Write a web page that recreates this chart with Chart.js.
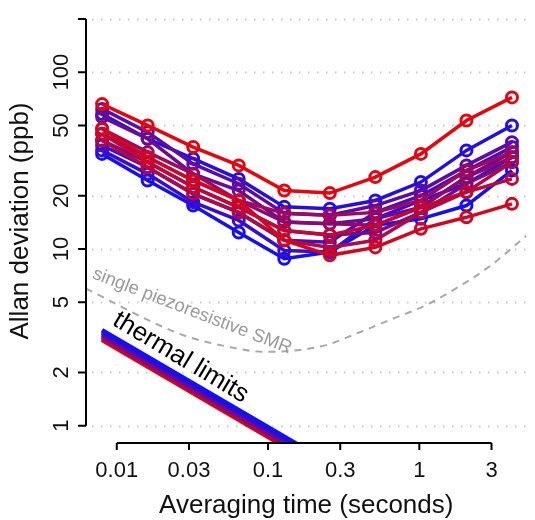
<!DOCTYPE html>
<html>
<head>
<meta charset="utf-8">
<script src="https://cdn.jsdelivr.net/npm/chart.js@4.4.0/dist/chart.umd.min.js"></script>
<style>
  html, body { margin: 0; padding: 0; background: #fff; }
  canvas { display: block; }
</style>
</head>
<body>
<canvas id="allanChart" width="535" height="520"></canvas>
<script>
// averaging times (s)
const tau = [0.008, 0.016, 0.032, 0.064, 0.128, 0.256, 0.512, 1.024, 2.048, 4.096];

// Allan deviation (ppb), one array per device, blue -> red
const dev01 = [34.5, 24.4, 17.6, 12.4, 8.8, 9.6, 13.6, 14.8, 17.6, 27.8];
const dev02 = [58, 42, 32.4, 24.9, 17.3, 16.9, 18.8, 23.9, 36.1, 49.9];
const dev03 = [36.1, 26.6, 18.4, 14.5, 9.8, 9.6, 14.8, 18.8, 23.4, 33];
const dev04 = [38.5, 29, 20.5, 16.1, 11.2, 10.9, 16.1, 20, 27.8, 37.7];
const dev05 = [62, 45.8, 30.3, 23.4, 15.9, 15.5, 17.6, 21.4, 29.7, 40.2];
const dev06 = [55.7, 42, 26.6, 21.4, 14.2, 13.9, 14.8, 17.2, 25.5, 35.3];
const dev07 = [41.1, 31, 22.4, 17.2, 12.7, 12, 12.4, 16.1, 23.4, 31];
const dev08 = [44.9, 33, 24.4, 18.8, 14.2, 13.9, 13.6, 17.2, 25.5, 33];
const dev09 = [47.9, 35.3, 26.6, 18.8, 15.9, 15.5, 16.1, 18.8, 27.8, 35.3];
const dev10 = [41.1, 29, 20.5, 16.1, 11.2, 10.2, 11.2, 16.1, 21, 31];
const dev11 = [44.9, 31, 22.4, 17.2, 12.7, 12, 13.6, 17.2, 21, 24.9];
const dev12 = [47.9, 33, 24.4, 18.8, 11.2, 9.2, 10.2, 13, 15.1, 18];
const dev13 = [66, 50, 37.7, 29.7, 21.4, 20.7, 25.5, 34.5, 53.3, 72];
const devices = [dev01, dev02, dev03, dev04, dev05, dev06, dev07, dev08, dev09, dev10, dev11, dev12, dev13];

// thermal limit lines (slope -1/2), value at first and last tau
const thermalTau = [0.008, 0.5];
const thermalStart = [3.48, 3.44, 3.40, 3.36, 3.32, 3.28, 3.25, 3.21, 3.17, 3.14, 3.10, 3.07, 3.04];
const thermalEnd = [0.440, 0.435, 0.430, 0.425, 0.420, 0.415, 0.411, 0.406, 0.401, 0.397, 0.392, 0.388, 0.385];

// single piezoresistive SMR curve
const smrTau = [0.00626, 0.00897, 0.0155, 0.0282, 0.0565, 0.093, 0.149, 0.246, 0.404, 0.665, 1.09, 1.8, 2.96, 5.11];
const smrDev = [5.97, 5.1, 4.02, 3.23, 2.78, 2.62, 2.66, 2.87, 3.38, 4.02, 4.78, 6.07, 8.05, 11.9];

const yTicks = [1, 2, 5, 10, 20, 50, 100, 200];
const yTickLabels = ["1", "2", "5", "10", "20", "50", "100", ""];
const xTicks = [0.01, 0.03, 0.1, 0.3, 1, 3];
const xTickLabels = ["0.01", "0.03", "0.1", "0.3", "1", "3"];

const FONT = "'Liberation Sans', Arial, Helvetica, sans-serif";

function rampColor(i, n) {
  const t = n > 1 ? i / (n - 1) : 0;
  const from = [20, 15, 245], to = [228, 5, 15];
  const c = from.map((v, k) => Math.round(v + (to[k] - v) * t));
  return `rgb(${c[0]},${c[1]},${c[2]})`;
}

const datasets = [];

devices.forEach((vals, i) => {
  const col = rampColor(i, devices.length);
  datasets.push({
    data: tau.map((x, k) => ({ x, y: vals[k] })),
    borderColor: col,
    borderWidth: 3.5,
    pointRadius: 5.5,
    pointBorderWidth: 3,
    pointBorderColor: col,
    pointBackgroundColor: "rgba(0,0,0,0)",
    order: 100 - i
  });
});

thermalStart.forEach((v, i) => {
  const col = rampColor(i, thermalStart.length);
  datasets.push({
    data: [{ x: thermalTau[0], y: v }, { x: thermalTau[1], y: thermalEnd[i] }],
    borderColor: col,
    borderWidth: 4,
    pointRadius: 0,
    clip: 0,
    order: 200 + i
  });
});

datasets.push({
  data: smrTau.map((x, k) => ({ x, y: smrDev[k] })),
  borderColor: "#a8a8a8",
  borderWidth: 2,
  borderDash: [7, 6],
  pointRadius: 0,
  tension: 0.4,
  cubicInterpolationMode: "monotone",
  clip: 0,
  order: 300
});

const rAxes = {
  id: "rAxes",
  beforeDatasetsDraw(chart) {
    const { ctx, chartArea, scales } = chart;
    ctx.save();
    ctx.strokeStyle = "#c9c9c9";
    ctx.lineWidth = 2;
    ctx.setLineDash([1.5, 7.5]);
    yTicks.forEach(v => {
      const y = Math.round(scales.y.getPixelForValue(v)) + 0.5;
      ctx.beginPath();
      ctx.moveTo(chartArea.left + 6, y);
      ctx.lineTo(chartArea.right, y);
      ctx.stroke();
    });
    ctx.restore();
  },
  afterDatasetsDraw(chart) {
    const { ctx, chartArea, scales } = chart;
    const xs = scales.x, ys = scales.y;
    ctx.save();
    ctx.strokeStyle = "#000";
    ctx.lineWidth = 2;
    ctx.setLineDash([]);

    // y axis
    const ax = chartArea.left;
    ctx.beginPath();
    ctx.moveTo(ax, ys.getPixelForValue(yTicks[0]));
    ctx.lineTo(ax, ys.getPixelForValue(yTicks[yTicks.length - 1]));
    yTicks.forEach(v => {
      const y = ys.getPixelForValue(v);
      ctx.moveTo(ax, y);
      ctx.lineTo(ax - 8, y);
    });
    ctx.stroke();

    // x axis
    const ay = chartArea.bottom;
    ctx.beginPath();
    ctx.moveTo(xs.getPixelForValue(xTicks[0]), ay);
    ctx.lineTo(xs.getPixelForValue(xTicks[xTicks.length - 1]), ay);
    xTicks.forEach(v => {
      const x = xs.getPixelForValue(v);
      ctx.moveTo(x, ay);
      ctx.lineTo(x, ay + 7);
    });
    ctx.stroke();

    ctx.fillStyle = "#111";
    ctx.font = `22px ${FONT}`;
    ctx.textAlign = "center";
    ctx.textBaseline = "middle";
    xTicks.forEach((v, i) => {
      ctx.fillText(xTickLabels[i], xs.getPixelForValue(v), ay + 28);
    });
    yTicks.forEach((v, i) => {
      if (!yTickLabels[i]) return;
      ctx.save();
      ctx.translate(ax - 24, ys.getPixelForValue(v));
      ctx.rotate(-Math.PI / 2);
      ctx.fillText(yTickLabels[i], 0, 0);
      ctx.restore();
    });

    // axis titles
    ctx.font = `26px ${FONT}`;
    ctx.fillText("Averaging time (seconds)", (chartArea.left + chartArea.right) / 2, 506);
    ctx.save();
    ctx.translate(21, 221);
    ctx.rotate(-Math.PI / 2);
    ctx.fillText("Allan deviation (ppb)", 0, 0);
    ctx.restore();

    // annotations
    ctx.textAlign = "left";
    ctx.textBaseline = "alphabetic";
    ctx.save();
    ctx.fillStyle = "#9a9a9a";
    ctx.font = `18.5px ${FONT}`;
    ctx.translate(xs.getPixelForValue(0.0068), ys.getPixelForValue(6.85));
    ctx.rotate(21 * Math.PI / 180);
    ctx.fillText("single piezoresistive SMR", 0, 0);
    ctx.restore();

    ctx.save();
    ctx.fillStyle = "#000";
    ctx.font = `26px ${FONT}`;
    ctx.translate(xs.getPixelForValue(0.0092), ys.getPixelForValue(3.75));
    ctx.rotate(31 * Math.PI / 180);
    ctx.fillText("thermal limits", 0, 0);
    ctx.restore();

    ctx.restore();
  }
};

new Chart(document.getElementById("allanChart").getContext("2d"), {
  type: "line",
  data: { datasets },
  options: {
    responsive: false,
    animation: false,
    layout: { padding: { left: 86, top: 19, right: 0, bottom: 77 } },
    scales: {
      x: { type: "logarithmic", min: 0.00626, max: 5.11, display: false },
      y: { type: "logarithmic", min: 0.798, max: 200, display: false }
    },
    plugins: {
      legend: { display: false },
      tooltip: { enabled: false }
    }
  },
  plugins: [rAxes]
});
</script>
</body>
</html>
